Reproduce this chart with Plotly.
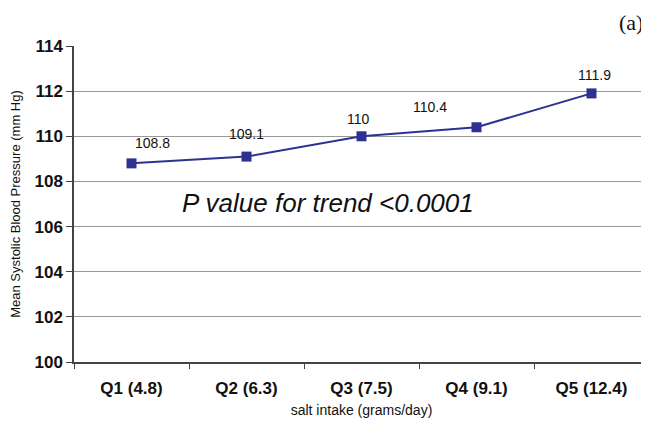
import plotly.graph_objects as go

categories = ["Q1 (4.8)", "Q2 (6.3)", "Q3 (7.5)", "Q4 (9.1)", "Q5 (12.4)"]
sbp = [108.8, 109.1, 110.0, 110.4, 111.9]
labels = ["108.8", "109.1", "110", "110.4", "111.9"]
y_ticks = [100, 102, 104, 106, 108, 110, 112, 114]

label_shift_y = [20, 23, 17, 20, 18]
label_shift_x = [21, 0, -3, -47, 3]

fig = go.Figure()
fig.add_trace(go.Scatter(
    x=categories, y=sbp, mode="lines+markers",
    line=dict(color="#2E3192", width=2),
    marker=dict(symbol="square", size=10, color="#2E3192"),
    showlegend=False,
))

for c, v, t, dy, dx in zip(categories, sbp, labels, label_shift_y, label_shift_x):
    fig.add_annotation(x=c, y=v, text=t, showarrow=False, yshift=dy, xshift=dx,
                       font=dict(family="Arial, Liberation Sans", size=14, color="#111"))

fig.add_annotation(x=1.71, y=107.05, xref="x", yref="y", text="<i>P value for trend &lt;0.0001</i>",
                   showarrow=False, font=dict(family="Arial, Liberation Sans", size=26, color="#111"))

L, T, R, B = 66, 38, 8, 70
W, H = 649, 424
fig.add_annotation(x=(623 - L) / (W - L - R), y=1 + (T - 14.5) / (H - T - B),
                   xref="paper", yref="paper", xanchor="center", yanchor="middle",
                   text="(a)", showarrow=False,
                   font=dict(family="Liberation Serif, DejaVu Serif, serif", size=22, color="#111"))

fig.update_layout(
    width=W, height=H,
    margin=dict(l=L, r=R, t=T, b=B, autoexpand=False),
    paper_bgcolor="white", plot_bgcolor="white",
    font=dict(family="Arial, Liberation Sans", color="#111"),
)

fig.update_xaxes(
    type="category", range=[-0.5, 4.5], automargin=False,
    showline=True, linecolor="#444", linewidth=1.5,
    ticks="outside", tickson="boundaries", ticklen=5, tickcolor="#444",
    showgrid=False, ticklabelstandoff=10,
    tickfont=dict(size=17, weight="bold"),
    title=dict(text="salt intake (grams/day)", font=dict(size=14), standoff=8),
)
fig.update_yaxes(
    range=[100, 114], tickvals=y_ticks, automargin=False,
    showline=True, linecolor="#444", linewidth=1.5,
    ticks="outside", ticklen=6, tickcolor="#444",
    showgrid=True, gridcolor="#999", gridwidth=1,
    tickfont=dict(size=17, weight="bold"),
    title=dict(text="Mean Systolic Blood Pressure (mm Hg)", font=dict(size=13), standoff=14),
)

fig.write_html("out.html")
